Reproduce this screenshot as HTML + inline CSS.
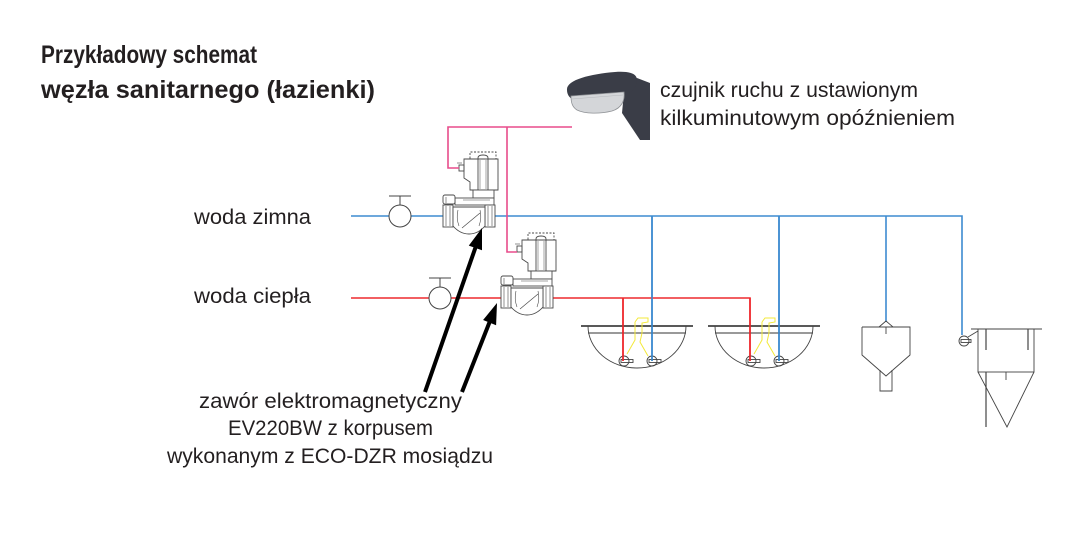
<!DOCTYPE html>
<html>
<head>
<meta charset="utf-8">
<style>
html,body{margin:0;padding:0;background:#fff;}
svg{display:block;}
text{font-family:"Liberation Sans","DejaVu Sans",sans-serif;fill:#231f20;}
</style>
</head>
<body>
<svg width="1071" height="548" viewBox="0 0 1071 548" xmlns="http://www.w3.org/2000/svg">
<rect width="1071" height="548" fill="#fff"/>
<defs>
  <g id="valve" fill="none" stroke="#4a4a4a" stroke-width="0.9">
    <!-- dashed top -->
    <path d="M470,162 L470,152 L496,152 L496,162" stroke-dasharray="2,1.5"/>
    <!-- coil -->
    <path d="M464,159 L498,159 L498,190 L470,190 L470,182 L464,178 Z" fill="#fff"/>
    <path d="M478,190 L478,158 Q478,155 483,155 Q488,155 488,158 L488,190"/>
    <line x1="480" y1="160" x2="480" y2="189" stroke-width="0.5"/>
    <line x1="486" y1="160" x2="486" y2="189" stroke-width="0.5"/>
    <!-- terminal -->
    <rect x="459" y="165" width="5" height="6"/>
    <line x1="457" y1="163" x2="462" y2="163" stroke-width="0.6"/>
    <!-- neck -->
    <rect x="473" y="190" width="21" height="8" fill="#fff"/>
    <!-- bonnet -->
    <rect x="455" y="198" width="39" height="7" fill="#fff"/>
    <rect x="443" y="195" width="12" height="9" rx="2" fill="#fff"/>
    <line x1="446" y1="197" x2="446" y2="203" stroke-width="0.6"/>
    <line x1="463" y1="200" x2="490" y2="200" stroke-width="0.5"/>
    <!-- body -->
    <rect x="443" y="205" width="10" height="22" fill="#fff"/>
    <rect x="485" y="205" width="10" height="22" fill="#fff"/>
    <path d="M453,207 L485,207 L485,226 Q478,234 469,234 Q460,234 453,226 Z" fill="#fff"/>
    <line x1="446" y1="206" x2="446" y2="226" stroke-width="0.6"/>
    <line x1="450" y1="206" x2="450" y2="226" stroke-width="0.6"/>
    <line x1="488" y1="206" x2="488" y2="226" stroke-width="0.6"/>
    <line x1="492" y1="206" x2="492" y2="226" stroke-width="0.6"/>
    <path d="M458,210 Q456,218 459,226" stroke-width="0.6"/>
    <path d="M480,210 Q482,218 479,226" stroke-width="0.6"/>
    <line x1="462" y1="228" x2="480" y2="213" stroke-width="0.7"/>
  </g>
  <g id="sink">
    <line x1="581" y1="326" x2="693" y2="326" stroke="#222" stroke-width="1.6"/>
    <line x1="588" y1="333" x2="686" y2="333" stroke="#333" stroke-width="1"/>
    <path d="M588,326 A49,42 0 0 0 686,326" fill="none" stroke="#444" stroke-width="0.9"/>
    <path d="M635,322 L638,318 L648,318 L648,322 L642,323 L642,333 L640,342 L648,356" fill="none" stroke="#f3e93a" stroke-width="1"/>
    <path d="M635,322 L635,340 L627,354" fill="none" stroke="#f3e93a" stroke-width="1"/>
  </g>
</defs>

<!-- Title -->
<text x="41" y="63" font-size="25" font-weight="bold" textLength="216" lengthAdjust="spacingAndGlyphs">Przykładowy schemat</text>
<text x="41" y="98" font-size="25" font-weight="bold" textLength="334" lengthAdjust="spacingAndGlyphs">węzła sanitarnego (łazienki)</text>

<!-- Sensor -->
<polygon points="625,82 637,78 650,83 650,140 640,140 622,113" fill="#3a3d47"/>
<path d="M567,90 C566,80 590,74 615,72 C628,71 637,73 637,80 C637,88 630,94 622,96 L575,100 C570,99 567,95 567,90 Z" fill="#3a3d47"/>
<path d="M571,96 L624,92 C625,100 622,108 612,111 C600,114 585,114 577,110 C572,107 571,102 571,96 Z" fill="#d4d6d9" stroke="#8f9296" stroke-width="0.8"/>
<line x1="572" y1="99" x2="623" y2="95" stroke="#b5b8bc" stroke-width="0.6"/>

<text x="660" y="97" font-size="21" textLength="258" lengthAdjust="spacingAndGlyphs">czujnik ruchu z ustawionym</text>
<text x="660" y="125" font-size="21" textLength="295" lengthAdjust="spacingAndGlyphs">kilkuminutowym opóźnieniem</text>

<!-- Labels -->
<text x="194" y="224" font-size="21" textLength="117" lengthAdjust="spacingAndGlyphs">woda zimna</text>
<text x="194" y="303" font-size="21" textLength="117" lengthAdjust="spacingAndGlyphs">woda ciepła</text>

<!-- Blue cold line -->
<g stroke="#3d8bd0" stroke-width="1.6" fill="none">
  <line x1="351" y1="216" x2="389" y2="216"/>
  <line x1="411" y1="216" x2="443" y2="216"/>
  <polyline points="495,216 962,216 962,335"/>
  <line x1="652" y1="216" x2="652" y2="361"/>
  <line x1="779" y1="216" x2="779" y2="361"/>
  <line x1="886" y1="216" x2="886" y2="322"/>
</g>
<!-- Red hot line -->
<g stroke="#ee2a2f" stroke-width="1.6" fill="none">
  <line x1="351" y1="298" x2="429" y2="298"/>
  <line x1="451" y1="298" x2="501" y2="298"/>
  <polyline points="553,298 750,298 750,361"/>
  <line x1="623" y1="298" x2="623" y2="361"/>
</g>

<!-- Gate valves -->
<g fill="#fff" stroke="#444" stroke-width="1">
  <circle cx="400" cy="216" r="11"/>
  <line x1="400" y1="205" x2="400" y2="196"/>
  <line x1="389" y1="196" x2="411" y2="196"/>
  <circle cx="440" cy="298" r="11"/>
  <line x1="440" y1="287" x2="440" y2="278"/>
  <line x1="429" y1="278" x2="451" y2="278"/>
</g>

<!-- Solenoid valves -->
<use href="#valve"/>
<use href="#valve" transform="translate(58,81)"/>

<!-- Pink wiring -->
<g stroke="#e84c8b" stroke-width="1.6" fill="none">
  <polyline points="459,168 448,168 448,127 572,127"/>
  <polyline points="517,252 507,252 507,127"/>
</g>

<!-- Sinks -->
<use href="#sink"/>
<use href="#sink" transform="translate(127,0)"/>
<g fill="none" stroke="#444" stroke-width="0.9">
  <circle cx="624" cy="361" r="5"/>
  <rect x="621" y="359.5" width="12" height="3"/>
  <circle cx="652" cy="361" r="5"/>
  <rect x="649" y="359.5" width="12" height="3"/>
  <circle cx="751" cy="361" r="5"/>
  <rect x="748" y="359.5" width="12" height="3"/>
  <circle cx="779" cy="361" r="5"/>
  <rect x="776" y="359.5" width="12" height="3"/>
</g>
<!-- re-draw supply verticals over sink bits -->
<line x1="623" y1="298" x2="623" y2="361" stroke="#ee2a2f" stroke-width="1.6"/>
<line x1="750" y1="298" x2="750" y2="361" stroke="#ee2a2f" stroke-width="1.6"/>
<line x1="652" y1="216" x2="652" y2="361" stroke="#3d8bd0" stroke-width="1.6"/>
<line x1="779" y1="216" x2="779" y2="361" stroke="#3d8bd0" stroke-width="1.6"/>

<!-- Urinal / bidet -->
<g fill="none" stroke="#444" stroke-width="0.9">
  <polyline points="862,327 910,327 910,355 886,376 862,355 862,327"/>
  <polyline points="879,327 886,321 893,327"/>
  <line x1="886" y1="327" x2="886" y2="334"/>
  <polyline points="880,370 880,391 892,391 892,370"/>
</g>

<!-- Toilet -->
<g fill="none" stroke="#444" stroke-width="0.9">
  <line x1="971" y1="329" x2="1042" y2="329"/>
  <rect x="978" y="329" width="56" height="43"/>
  <line x1="986" y1="329" x2="986" y2="350" stroke-width="1.2"/>
  <line x1="1028" y1="329" x2="1028" y2="350" stroke-width="1.2"/>
  <polyline points="978,372 1007,427 1034,372"/>
  <line x1="986" y1="372" x2="986" y2="427" stroke-width="1.2"/>
  <line x1="1006" y1="372" x2="1006" y2="380"/>
  <circle cx="964" cy="341" r="5"/>
  <rect x="961" y="339.5" width="10" height="3"/>
  <line x1="968" y1="337" x2="978" y2="331"/>
</g>

<!-- Arrows -->
<g stroke="#000" stroke-width="4" fill="none">
  <line x1="425" y1="392" x2="476" y2="246"/>
  <line x1="462" y1="392" x2="490" y2="321"/>
</g>
<polygon points="482,228 468.8,245.6 482,250.2" fill="#000"/>
<polygon points="497,303 483.1,320 496.1,325.2" fill="#000"/>

<!-- Bottom label -->
<text x="199" y="408" font-size="21" textLength="263" lengthAdjust="spacingAndGlyphs">zawór elektromagnetyczny</text>
<text x="228" y="435" font-size="21" textLength="205" lengthAdjust="spacingAndGlyphs">EV220BW z korpusem</text>
<text x="167" y="463" font-size="21" textLength="326" lengthAdjust="spacingAndGlyphs">wykonanym z ECO-DZR mosiądzu</text>
</svg>
</body>
</html>
